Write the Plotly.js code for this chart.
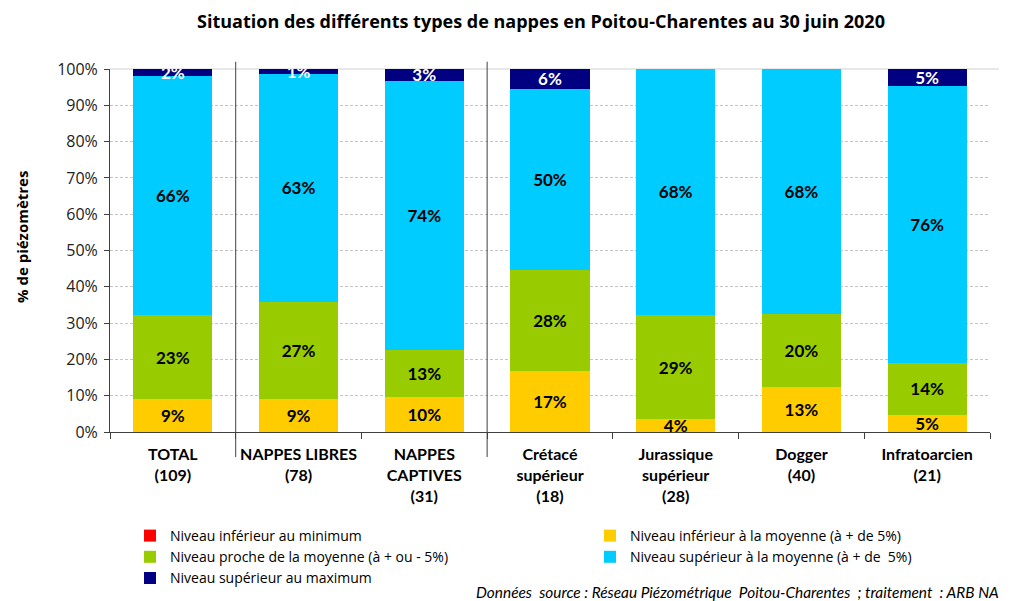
<!DOCTYPE html>
<html>
<head>
<meta charset="utf-8">
<script src="https://cdn.plot.ly/plotly-3.0.1.min.js"></script>
<style>html,body{margin:0;padding:0;background:#fff;}#chart{width:1011px;height:601px;}</style>
</head>
<body>
<div id="chart"></div>
<script>
const categories = [
  "TOTAL<br>(109)",
  "NAPPES LIBRES<br>(78)",
  "NAPPES<br>CAPTIVES<br>(31)",
  "Crétacé<br>supérieur<br>(18)",
  "Jurassique<br>supérieur<br>(28)",
  "Dogger<br>(40)",
  "Infratoarcien<br>(21)"
];
const seriesNames = [
  "Niveau inférieur au minimum",
  "Niveau inférieur à la moyenne (à + de 5%)",
  "Niveau proche de la moyenne (à + ou - 5%)",
  "Niveau supérieur à la moyenne (à + de  5%)",
  "Niveau supérieur au maximum"
];
const belowMin   = [0, 0, 0, 0, 0, 0, 0];
const belowMean  = [9.2, 9.0, 9.7, 16.7, 3.6, 12.5, 4.8];
const nearMean   = [22.9, 26.9, 12.9, 27.8, 28.6, 20.0, 14.3];
const aboveMean  = [66.1, 62.8, 74.2, 50.0, 67.9, 67.5, 76.2];
const aboveMax   = [1.8, 1.3, 3.2, 5.6, 0, 0, 4.8];

const colors = ["#FF0000", "#FFCC00", "#99CC00", "#00CCFF", "#000080"];
const textColors = ["#000", "#000", "#000", "#000", "#fff"];
const legendIds = ["legend", "legend2", "legend", "legend2", "legend"];
const allSeries = [belowMin, belowMean, nearMean, aboveMean, aboveMax];
const LATO = "Lato, 'Open Sans', sans-serif";
const OPEN = "'Open Sans', Lato, sans-serif";

const traces = allSeries.map((vals, i) => ({
  type: "bar",
  name: seriesNames[i],
  legend: legendIds[i],
  x: categories,
  y: vals,
  marker: {color: colors[i]},
  text: vals.map(v => v > 0 ? Math.round(v) + "%" : ""),
  textposition: "inside",
  insidetextanchor: "middle",
  constraintext: "none",
  textangle: 0,
  textfont: {family: LATO, size: 17, color: textColors[i], weight: "bold"},
  hoverinfo: "skip"
}));

const legendCommon = {
  orientation: "v",
  xref: "container", yref: "container",
  xanchor: "left", yanchor: "top",
  traceorder: "normal",
  font: {family: OPEN, size: 14, color: "#000"},
  itemclick: false, bgcolor: "rgba(0,0,0,0)"
};

const layout = {
  width: 1011, height: 601,
  margin: {l: 110, r: 21, t: 69, b: 169, autoexpand: false},
  paper_bgcolor: "#fff", plot_bgcolor: "#fff",
  font: {family: LATO, color: "#000"},
  barmode: "stack",
  bargap: 0.37,
  title: {
    text: "<b>Situation des différents types de nappes en Poitou-Charentes au 30 juin 2020</b>",
    font: {family: OPEN, size: 18, color: "#000"},
    x: 541/1011, xanchor: "center",
    y: 1 - 22/601, yref: "container", yanchor: "middle"
  },
  xaxis: {
    type: "category",
    tickson: "boundaries",
    tickangle: 0,
    ticks: "outside", ticklen: 6, tickcolor: "#404040",
    showline: true, linecolor: "#404040", linewidth: 1,
    tickfont: {family: LATO, size: 16, color: "#000", weight: "bold"},
    ticklabelstandoff: 8,
    showgrid: false
  },
  yaxis: {
    range: [0, 100], dtick: 10, ticksuffix: "%",
    ticks: "outside", ticklen: 5, tickcolor: "#404040",
    showline: true, linecolor: "#404040", linewidth: 1,
    tickfont: {family: OPEN, size: 16, color: "#222"},
    ticklabelstandoff: 3,
    showgrid: true, gridcolor: "#c4c4c4", griddash: "3px,2px", gridwidth: 1,
    zeroline: false
  },
  showlegend: true,
  legend: Object.assign({}, legendCommon, {x: 130/1011, y: 1 - 520/601}),
  legend2: Object.assign({}, legendCommon, {x: 590/1011, y: 1 - 520/601}),
  shapes: [
    {type: "line", xref: "x", yref: "paper", x0: 0.5, x1: 0.5, y0: -0.069, y1: 1.02, line: {color: "#404040", width: 1}},
    {type: "line", xref: "x", yref: "paper", x0: 2.5, x1: 2.5, y0: -0.069, y1: 1.02, line: {color: "#404040", width: 1}},
    {type: "line", xref: "paper", yref: "paper", x0: 0, x1: 1.01, y0: 1, y1: 1, layer: "below", line: {color: "#d0d0d0", width: 1}}
  ],
  annotations: [
    {
      text: "<b>% de piézomètres</b>",
      xref: "paper", yref: "paper",
      x: -(110-22)/880, y: (432-237)/363, textangle: -90,
      xanchor: "center", yanchor: "middle", showarrow: false,
      font: {family: OPEN, size: 15, color: "#000"}
    },
    {
      text: "<i>Données  source : Réseau Piézométrique  Poitou-Charentes  ; traitement  : ARB NA</i>",
      xref: "paper", yref: "paper",
      x: (474-110)/880, y: -(592-432)/363,
      xanchor: "left", yanchor: "middle",
      showarrow: false,
      font: {family: LATO, size: 15.4, color: "#000"}
    }
  ]
};

Plotly.newPlot("chart", traces, layout, {displayModeBar: false, staticPlot: true});
</script>
</body>
</html>
